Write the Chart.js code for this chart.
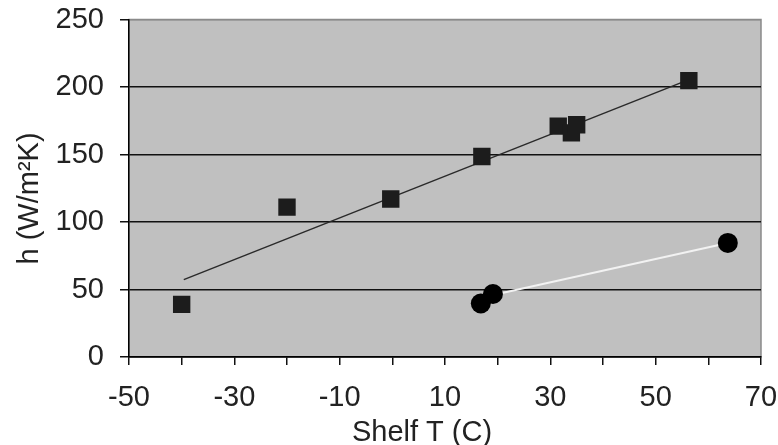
<!DOCTYPE html>
<html>
<head>
<meta charset="utf-8">
<script src="https://cdn.jsdelivr.net/npm/chart.js@4.4.6/dist/chart.umd.min.js"></script>
<style>
  html, body { margin: 0; padding: 0; background: #fff; }
  #wrap { width: 778px; height: 445px; }
</style>
</head>
<body>
<div id="wrap"><canvas id="c" width="778" height="445"></canvas></div>
<script>
// Datos (h frente a temperatura de la placa)
const squareT = [-40, -20, -0.3, 17, 31.5, 34, 35, 56.3];
const squareH = [39, 111, 117, 148.5, 171, 166, 172, 204.7];
const circleT = [16.8, 19.1, 63.7];
const circleH = [39.6, 46.7, 84.5];
// Rectas de ajuste (extremos)
const fitSquareT = [-39.6, 56.3];
const fitSquareH = [57.3, 205.5];
const fitCircleT = [17, 63.7];
const fitCircleH = [44, 84.5];
// Ejes
const xTickLabels = [-50, -30, -10, 10, 30, 50, 70];
const yTicks = [0, 50, 100, 150, 200, 250];
const xTitle = 'Shelf T (C)';
const yTitle = 'h (W/m\u00b2K)';

const pares = (xs, ys) => xs.map((x, i) => ({ x, y: ys[i] }));
const FUENTE = '"Liberation Sans", Arial, sans-serif';
const TEXTO = '#222';
const TAM = 29;

// Fondo gris del área de trazado y marco superior/derecho
const fondo = {
  id: 'fondo',
  beforeDraw(chart) {
    const { ctx, chartArea: a } = chart;
    ctx.save();
    ctx.fillStyle = '#c0c0c0';
    ctx.fillRect(a.left, a.top, a.right - a.left, a.bottom - a.top);
    ctx.strokeStyle = '#8a8a8a';
    ctx.lineWidth = 1.5;
    ctx.strokeRect(a.left, a.top, a.right - a.left, a.bottom - a.top);
    ctx.restore();
  },
  afterDraw(chart) {
    // títulos de ejes, algo desplazados del centro como en el original
    const { ctx, chartArea: a } = chart;
    ctx.save();
    ctx.fillStyle = TEXTO;
    ctx.font = `${TAM}px ${FUENTE}`;
    ctx.textAlign = 'center';
    ctx.textBaseline = 'middle';
    ctx.fillText(xTitle, a.left + 293, a.bottom + 76);
    ctx.translate(30, a.top + 179);
    ctx.rotate(-Math.PI / 2);
    ctx.fillText(yTitle, 0, 0);
    ctx.restore();
  },
};

new Chart(document.getElementById('c'), {
  type: 'scatter',
  data: {
    datasets: [
      {
        data: pares(circleT, circleH),
        pointStyle: 'circle',
        pointRadius: 10,
        pointHoverRadius: 10,
        backgroundColor: '#000',
        borderColor: '#000',
        borderWidth: 0,
      },
      {
        data: pares(squareT, squareH),
        pointStyle: 'rect',
        pointRadius: 12.3,
        pointHoverRadius: 12.3,
        backgroundColor: '#1c1c1c',
        borderColor: '#1c1c1c',
        borderWidth: 0,
      },
      {
        data: pares(fitCircleT, fitCircleH),
        showLine: true,
        pointRadius: 0,
        borderColor: '#f2f2f2',
        borderWidth: 2,
      },
      {
        data: pares(fitSquareT, fitSquareH),
        showLine: true,
        pointRadius: 0,
        borderColor: '#2a2a2a',
        borderWidth: 1.5,
      },
    ],
  },
  options: {
    responsive: false,
    animation: false,
    events: [],
    layout: { padding: { top: 19.5, right: 17, left: 0, bottom: 0 } },
    plugins: { legend: { display: false }, tooltip: { enabled: false } },
    scales: {
      x: {
        type: 'linear',
        min: -50,
        max: 70,
        afterFit: (s) => { s.height = 88; s.paddingLeft = 0; s.paddingRight = 0; },
        border: { color: '#000', width: 1.5 },
        grid: { drawOnChartArea: false, color: '#111', tickLength: 8, lineWidth: 1.5 },
        ticks: {
          stepSize: 10,
          padding: 16,
          color: TEXTO,
          font: { size: TAM, family: FUENTE },
          maxRotation: 0,
          autoSkip: false,
          callback: (v) => (xTickLabels.includes(v) ? String(v) : ''),
        },
      },
      y: {
        type: 'linear',
        min: 0,
        max: 250,
        afterFit: (s) => { s.width = 129; s.paddingTop = 0; s.paddingBottom = 0; },
        afterBuildTicks: (s) => { s.ticks = yTicks.map((value) => ({ value })); },
        border: { color: '#000', width: 1.5 },
        grid: {
          color: (c) => (c.tick && c.tick.value === 250 ? '#8a8a8a' : '#111'),
          tickColor: '#111',
          tickLength: 9,
          lineWidth: 1.5,
        },
        ticks: {
          padding: 16,
          color: TEXTO,
          font: { size: TAM, family: FUENTE },
        },
      },
    },
  },
  plugins: [fondo],
});
</script>
</body>
</html>
